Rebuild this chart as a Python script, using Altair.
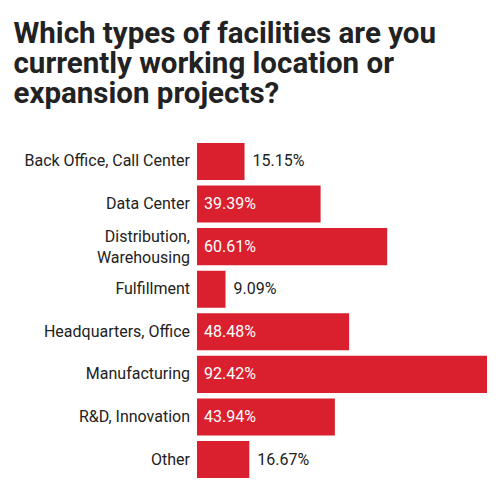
import pandas as pd
import altair as alt

categories = [
    "Back Office, Call Center",
    "Data Center",
    "Distribution, Warehousing",
    "Fulfillment",
    "Headquarters, Office",
    "Manufacturing",
    "R&D, Innovation",
    "Other",
]
shares = [15.15, 39.39, 60.61, 9.09, 48.48, 92.42, 43.94, 16.67]

df = pd.DataFrame({"facility": categories, "share": shares})
df["label"] = [f"{v:.2f}%" for v in shares]
# the long distribution label wraps onto two lines
df["axis_label"] = [c.replace("Distribution, ", "Distribution,|") for c in categories]

red = "#da1f2e"
ink = "#222222"

y_enc = alt.Y(
    "facility:N",
    sort=categories,
    title=None,
    scale=alt.Scale(paddingInner=0.13, paddingOuter=0.07),
    axis=None,
)
x_enc = alt.X(
    "share:Q",
    title=None,
    scale=alt.Scale(domain=[0, 92.42], nice=False, zero=True),
    axis=None,
)

base = alt.Chart(df)

bars = base.mark_bar(color=red).encode(y=y_enc, x=x_enc)

names = base.mark_text(
    align="right", baseline="middle", color=ink, font="Roboto", fontSize=16,
).encode(y=y_enc, x=alt.value(-7), text="axis_label:N").transform_filter(
    "indexof(datum.axis_label, '|') < 0"
)

names_wrapped = base.mark_text(
    align="right", baseline="middle", color=ink, font="Roboto", fontSize=16,
    lineBreak="|", lineHeight=21, dy=-10,
).encode(y=y_enc, x=alt.value(-7), text="axis_label:N").transform_filter(
    "indexof(datum.axis_label, '|') >= 0"
)

inside = base.mark_text(
    align="left", baseline="middle", color="white", font="Roboto", fontSize=16,
).encode(y=y_enc, x=alt.value(7), text="label:N").transform_filter("datum.share > 25")

outside = base.mark_text(
    align="left", baseline="middle", dx=8, color=ink, font="Roboto", fontSize=16,
).encode(y=y_enc, x=x_enc, text="label:N").transform_filter("datum.share <= 25")

chart = alt.layer(bars, names, names_wrapped, inside, outside).properties(
    width=290,
    height=341,
    padding={"left": 5, "top": 10, "right": 5, "bottom": 5},
    title=alt.TitleParams(
        ["Which types of facilities are you", "currently working location or", "expansion projects?"],
        anchor="start",
        frame="bounds",
        font="Roboto",
        fontSize=29.5,
        fontWeight="bold",
        color=ink,
        lineHeight=30,
        dx=-11,
        offset=31,
    ),
).configure_view(stroke=None)

chart.save("out.html", embed_options={"renderer": "svg", "actions": False})
